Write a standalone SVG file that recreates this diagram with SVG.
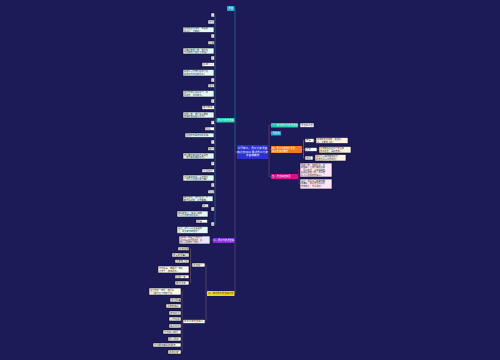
<svg xmlns="http://www.w3.org/2000/svg" width="500" height="360" viewBox="0 0 500 360">
<style>
text{font-family:"Noto Sans CJK SC","Noto Sans",sans-serif;font-size:2.4px;fill:#333}
.s{font-size:2.2px}
.t{font-size:2px}
.h{fill:#fff;font-size:2.3px}
.b{stroke:#0c0b36;stroke-width:0.6}
.n{fill:#ffffff}
.w{fill:#e4f8f6}
.y{fill:#fffbea}
.o{fill:#fdf1e0}
.p{fill:#fde6f1}
.lp{fill:#ece3fa}
.c{fill:none;stroke-width:0.8}
</style>
<rect width="500" height="360" fill="#1c1b58"/>
<g id="connectors">
<path class="c" stroke="#2a6890" d="M237,152H235V8.5H234.5M235,120.5H234.5M215,15V224.5M216.5,120.5H215"/>
<path class="c" stroke="#56456e" d="M235,152V293.5M235,240.5H234.5M213,240H210"/>
<path class="c" stroke="#5e4a66" d="M207,293.5H206M206,265V321.5M206,265H205M206,321.5H205M192,265H190.5M190.5,248.5V283M182,321.5H183M182,291V352"/>
<path class="c" stroke="#6a3a68" d="M268,152H269M269,125V176.5M269,125H271M269,133H271M269,149.5H271M269,176.5H271"/>
<path class="c" stroke="#2a6890" d="M298,125.2H300"/>
<path class="c" stroke="#8a5a3a" d="M302,149.5H303.5M303.5,140.5V158M303.5,140.5H305M303.5,149.5H305M303.5,158H305M314,140.5H316M317,149.5H319M313,158H315"/>
<path class="c" stroke="#7a2a6a" d="M298,176.5H299M299,170V184M299,170H300M299,184H300"/>
</g>
<g id="center"><rect x="237" y="145" width="31" height="14" rx="0.8" fill="#2b30d2"/><text x="252.5" y="149" text-anchor="middle" style="fill:#fff;font-size:2.7px">公司年会，员工代表发言</text><text x="252.5" y="152.7" text-anchor="middle" style="fill:#fff;font-size:2.7px">稿范文2021 最新员工代表</text><text x="252.5" y="156.4" text-anchor="middle" style="fill:#fff;font-size:2.7px">发言稿精选</text></g>
<g id="top"><rect x="227" y="6" width="7.5" height="5" rx="0.5" fill="#1aa8d6"/><text x="230.7" y="9.4" text-anchor="middle" style="fill:#fff;font-size:2.2px">导读</text></g>
<g id="teal"><rect x="216.5" y="118" width="18" height="4.5" rx="0.5" fill="#1cc8ae"/><text x="225.5" y="121.2" text-anchor="middle" class="h">员工代表发言稿</text></g>
<g id="t1"><rect class="b n" x="211" y="13" width="3.5" height="4"/><text x="212.7" y="15.9" text-anchor="middle">1</text></g>
<g id="t2"><rect class="b n" x="208" y="20" width="6.5" height="4"/><text x="209" y="22.9">各位</text></g>
<g id="t3"><rect class="b w" x="183" y="27" width="31" height="5.5"/><text class="s" x="184" y="29.3">尊敬的各位领导、亲爱的</text><text class="s" x="184" y="31.8">同事们：大家好！</text></g>
<g id="t4"><rect class="b n" x="211" y="34" width="3.5" height="4"/><text x="212.7" y="36.9" text-anchor="middle">2</text></g>
<g id="t5"><rect class="b n" x="208" y="41" width="6.5" height="3.5"/><text x="209" y="43.7">回顾</text></g>
<g id="t6"><rect class="b w" x="183" y="48" width="31" height="6"/><text class="s" x="184" y="50.5">回首过去的一年，我们在</text><text class="s" x="184" y="53">公司领导下取得了成绩。</text></g>
<g id="t7"><rect class="b n" x="211" y="56" width="3.5" height="4"/><text x="212.7" y="58.9" text-anchor="middle">3</text></g>
<g id="t8"><rect class="b n" x="202" y="62.5" width="12.5" height="4"/><text x="203" y="65.4">感谢公司</text></g>
<g id="t9"><rect class="b w" x="183" y="69.5" width="31" height="6.5"/><text class="s" x="184" y="72.2">感谢公司为我们提供了良</text><text class="s" x="184" y="74.8">好的工作平台和机会。</text></g>
<g id="t10"><rect class="b n" x="211" y="78" width="3.5" height="4"/><text x="212.7" y="80.9" text-anchor="middle">4</text></g>
<g id="t11"><rect class="b n" x="208" y="84" width="6.5" height="3.5"/><text x="209" y="86.7">成长</text></g>
<g id="t12"><rect class="b w" x="183" y="90.5" width="31" height="6.5"/><text class="s" x="184" y="93.2">在这里我们共同学习，共</text><text class="s" x="184" y="95.8">同进步，共同成长。</text></g>
<g id="t13"><rect class="b n" x="211" y="99" width="3.5" height="4"/><text x="212.7" y="101.9" text-anchor="middle">5</text></g>
<g id="t14"><rect class="b n" x="202" y="105.5" width="12.5" height="4"/><text x="203" y="108.4">展望未来</text></g>
<g id="t15"><rect class="b w" x="183" y="112" width="31" height="6"/><text class="s" x="184" y="114.5">新的一年，我们将以更加</text><text class="s" x="184" y="117">饱满的热情投入工作。</text></g>
<g id="t16"><rect class="b n" x="211" y="120.5" width="3.5" height="4"/><text x="212.7" y="123.4" text-anchor="middle">6</text></g>
<g id="t17"><rect class="b n" x="205" y="127" width="9.5" height="3.5"/><text x="206" y="129.7">团队</text></g>
<g id="t18"><rect class="b w" x="185" y="133" width="29" height="4.5"/><text class="s" x="186" y="136.1">团结协作是成功的关键。</text></g>
<g id="t19"><rect class="b n" x="211" y="140" width="3.5" height="4"/><text x="212.7" y="142.9" text-anchor="middle">7</text></g>
<g id="t20"><rect class="b n" x="208" y="147" width="6.5" height="3.5"/><text x="209" y="149.7">努力</text></g>
<g id="t21"><rect class="b w" x="183" y="153" width="31" height="6"/><text class="s" x="184" y="155.5">我们要不断提高自身素质</text><text class="s" x="184" y="158">，努力做好本职工作。</text></g>
<g id="t22"><rect class="b n" x="211" y="161.5" width="3.5" height="4"/><text x="212.7" y="164.4" text-anchor="middle">8</text></g>
<g id="t23"><rect class="b n" x="202" y="169" width="12.5" height="3.5"/><text x="203" y="171.7">立足岗位</text></g>
<g id="t24"><rect class="b w" x="183" y="175" width="31" height="6"/><text class="s" x="184" y="177.5">立足本职岗位，爱岗敬业</text><text class="s" x="184" y="180">，为公司发展贡献力量。</text></g>
<g id="t25"><rect class="b n" x="211" y="183" width="3.5" height="4"/><text x="212.7" y="185.9" text-anchor="middle">9</text></g>
<g id="t26"><rect class="b n" x="208" y="190" width="6.5" height="3.5"/><text x="209" y="192.7">创新</text></g>
<g id="t27"><rect class="b w" x="183" y="196" width="30" height="5.5"/><text class="s" x="184" y="198.3">勇于创新，敢于担当，不</text><text class="s" x="184" y="200.8">断开拓进取，追求卓越。</text></g>
<g id="t28"><rect class="b n" x="202" y="204" width="6.5" height="3.5"/><text x="203" y="206.7">信心</text></g>
<g id="t29"><rect class="b n" x="211" y="207" width="3.5" height="4"/><text x="212.7" y="209.9" text-anchor="middle" class="s">10</text></g>
<g id="t30"><rect class="b w" x="177" y="211" width="31" height="6"/><text class="s" x="178" y="213.5">我们有信心、有决心完成</text><text class="s" x="178" y="216">公司下达的各项任务。</text></g>
<g id="t31"><rect class="b n" x="196" y="219.5" width="11.5" height="3.5"/><text x="197" y="222.2">祝福</text></g>
<g id="t32"><rect class="b n" x="211" y="222" width="3.5" height="4"/><text x="212.7" y="224.9" text-anchor="middle" class="s">11</text></g>
<g id="t33"><rect class="b w" x="177" y="226.5" width="31" height="7"/><text class="s" x="178" y="229.3">最后，祝公司事业蒸蒸日</text><text class="s" x="178" y="232">上，祝大家新年快乐！</text></g>
<g id="purple"><rect x="213" y="238" width="21.5" height="5" rx="0.5" fill="#8a2be2"/><text x="223.7" y="241.4" text-anchor="middle" class="h">二、员工代表发言稿</text></g>
<g id="purple-c"><rect class="b lp" x="179" y="236" width="31" height="8"/><text class="t" x="180" y="238.2">大家好！我很荣幸能作为</text><text class="t" x="180" y="240.7">员工代表在这里发言，感</text><text class="t" x="180" y="243.2">谢公司给我这个机会。</text></g>
<g id="yellow"><rect x="207" y="291" width="27.5" height="5" rx="0.5" fill="#f5d21e"/><text x="220.7" y="294.4" text-anchor="middle" style="font-size:2.3px">三、年会员工发言稿范文</text></g>
<g id="ya"><rect class="b y" x="192" y="263" width="13" height="4"/><text x="193" y="265.9">发言稿一</text></g>
<g id="ya1"><rect class="b y" x="178" y="247" width="11" height="3.5"/><text x="179" y="249.7">尊敬领导</text></g>
<g id="ya2"><rect class="b y" x="172" y="253" width="17" height="4"/><text x="173" y="255.9">亲爱的同事们</text></g>
<g id="ya3"><rect class="b y" x="175" y="259.5" width="14" height="3.5"/><text x="176" y="262.2">大家晚上好</text></g>
<g id="ya4"><rect class="b y" x="158" y="266" width="31" height="7"/><text class="s" x="159" y="268.8">时光荏苒，转眼间一年又</text><text class="s" x="159" y="271.5">过去了，辞旧迎新。</text></g>
<g id="ya5"><rect class="b y" x="175" y="275" width="14" height="3.5"/><text x="176" y="277.7">回顾一年</text></g>
<g id="ya6"><rect class="b y" x="175" y="281" width="14" height="4"/><text x="176" y="283.9">展望新年</text></g>
<g id="yb"><rect class="b y" x="183" y="319.5" width="22" height="4"/><text x="184" y="322.4">员工代表发言稿二</text></g>
<g id="yb1"><rect class="b y" x="149" y="288" width="32" height="7"/><text class="s" x="150" y="290.8">在过去的一年里，我们每</text><text class="s" x="150" y="293.5">个人都付出了辛勤汗水。</text></g>
<g id="yb2"><rect class="b y" x="170" y="298" width="11" height="4"/><text x="171" y="300.9">各位同事</text></g>
<g id="yb3"><rect class="b y" x="166" y="304" width="15" height="4"/><text x="167" y="306.9">新年的钟声</text></g>
<g id="yb4"><rect class="b y" x="169" y="311" width="12" height="4"/><text x="170" y="313.9">辞旧迎新</text></g>
<g id="yb5"><rect class="b y" x="169" y="317" width="12" height="4"/><text x="170" y="319.9">心存感恩</text></g>
<g id="yb6"><rect class="b y" x="169" y="324" width="12" height="4"/><text x="170" y="326.9">携手共进</text></g>
<g id="yb7"><rect class="b y" x="163" y="330" width="18" height="4"/><text x="164" y="332.9">不忘初心前行</text></g>
<g id="yb8"><rect class="b y" x="168" y="337" width="13" height="4"/><text x="169" y="339.9">同心同德</text></g>
<g id="yb9"><rect class="b y" x="153" y="343" width="28" height="4"/><text x="154" y="345.9">共创更加美好的明天</text></g>
<g id="yb10"><rect class="b y" x="168" y="350" width="13" height="4"/><text x="169" y="352.9">谢谢大家</text></g>
<g id="r1"><rect x="271" y="123" width="27" height="4.5" rx="0.5" fill="#1cc8ae"/><text x="272" y="126.1" class="h">一、年会员工代表发言稿</text></g>
<g id="r1a"><rect class="b n" x="300" y="123" width="14" height="4.5"/><text x="301" y="126.1">发言稿范文</text></g>
<g id="r2"><rect x="271" y="131" width="10" height="4.5" rx="0.5" fill="#1aa8d6"/><text x="276" y="134.1" text-anchor="middle" class="h">发言稿</text></g>
<g id="orange"><rect x="271" y="146" width="31" height="7" rx="0.5" fill="#f07d1a"/><text x="272" y="149" class="h">四、员工代表年会发言</text><text x="272" y="151.8" class="h">稿范文最新精选</text></g>
<g id="o1"><rect class="b n" x="305" y="138.5" width="9" height="4"/><text x="306" y="141.4">开头</text></g>
<g id="o1a"><rect class="b o" x="316" y="137.5" width="32" height="6"/><text class="s" x="317" y="140">尊敬的各位领导，各位同</text><text class="s" x="317" y="142.5">事，大家晚上好！</text></g>
<g id="o2"><rect class="b n" x="305" y="147.5" width="12" height="4"/><text x="306" y="150.4">正文</text></g>
<g id="o2a"><rect class="b o" x="319" y="146.5" width="32" height="6.5"/><text class="s" x="320" y="149.2">今天能站在这里代表全体</text><text class="s" x="320" y="151.8">员工发言，深感荣幸。</text></g>
<g id="o3"><rect class="b n" x="305" y="156" width="8" height="4"/><text x="306" y="158.9">结尾</text></g>
<g id="o3a"><rect class="b o" x="315" y="154.5" width="31" height="6.5"/><text class="s" x="316" y="157.2">祝愿公司明天更加辉煌，</text><text class="s" x="316" y="159.8">祝各位同事工作顺利！</text></g>
<g id="magenta"><rect x="271" y="174" width="27" height="5" rx="0.5" fill="#d4148c"/><text x="272" y="177.4" class="h">五、发言稿结束语</text></g>
<g id="m1"><rect class="b p" x="300" y="163" width="32" height="14"/><text class="s" x="301" y="165.6">新的一年，新的起点，新</text><text class="s" x="301" y="168.2">的挑战。让我们携起手来</text><text class="s" x="301" y="170.8">，同心协力，以饱满的热</text><text class="s" x="301" y="173.4">情和昂扬的斗志，共同谱</text><text class="s" x="301" y="176">写公司发展的新篇章。</text></g>
<g id="m2"><rect class="b p" x="300" y="179" width="32" height="10"/><text class="s" x="301" y="181.6">最后，祝愿公司的明天更</text><text class="s" x="301" y="184.2">加美好，祝愿各位同事们</text><text class="s" x="301" y="186.8">新年快乐，万事如意！</text></g>
</svg>
